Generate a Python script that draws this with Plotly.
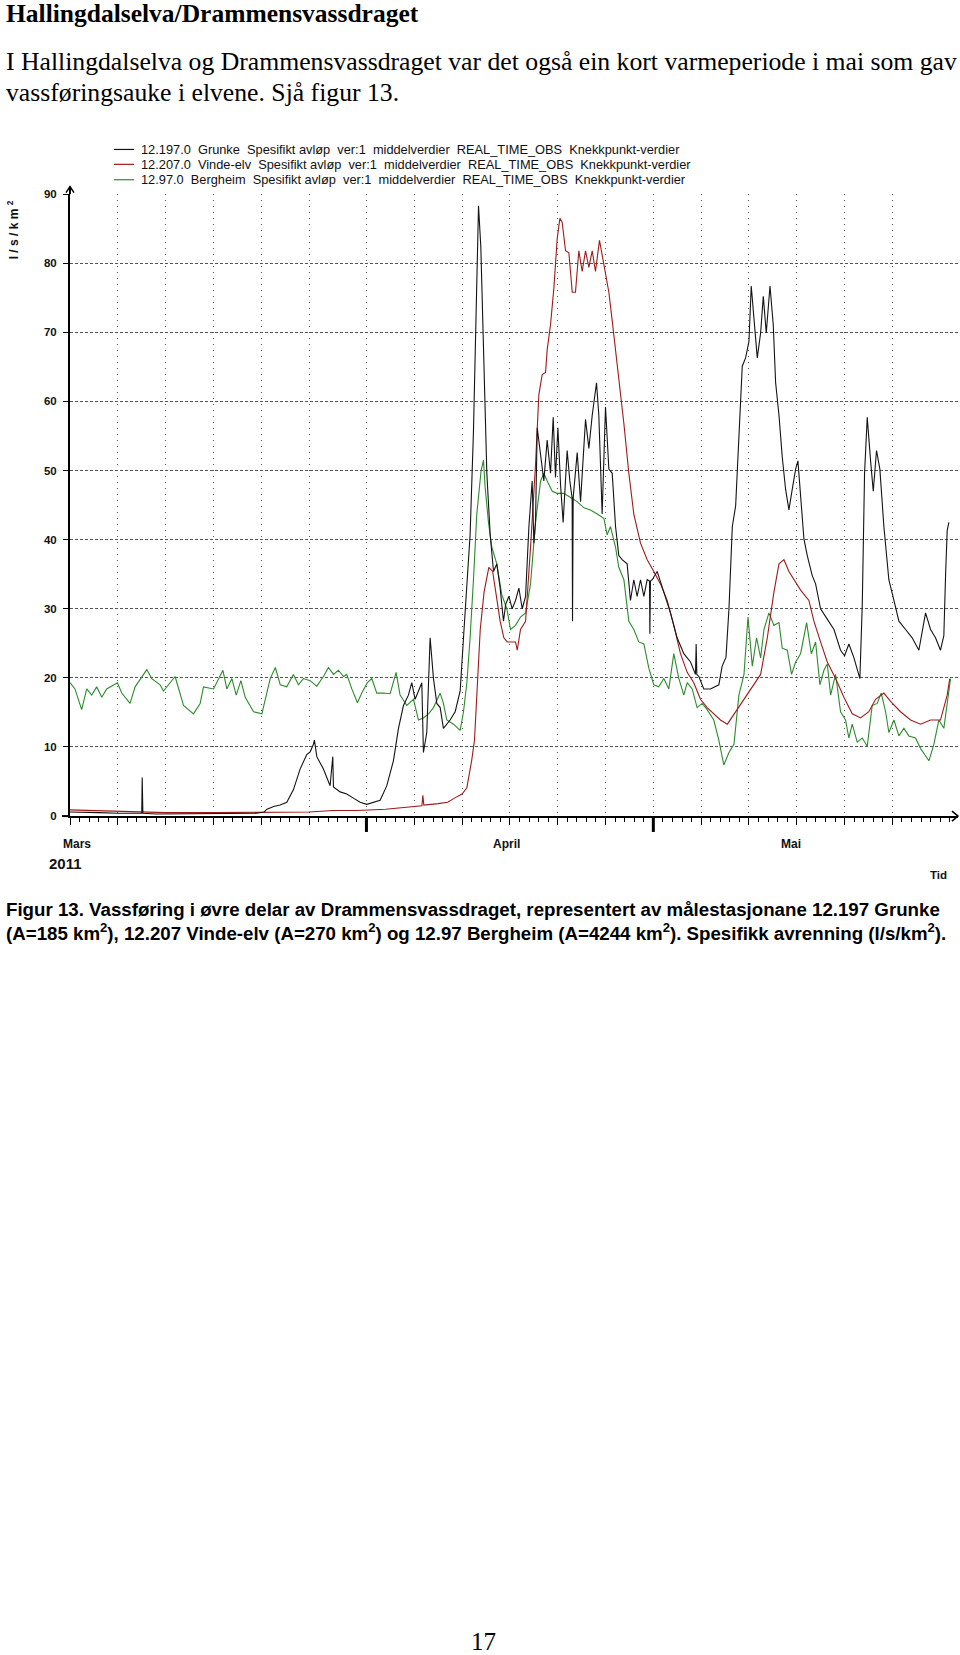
import pandas as pd
import plotly.graph_objects as go

W, H = 960, 1655
start = pd.Timestamp("2011-03-01")

# ---- data (days after 1 March 2011, l/s/km2) ----
grunke_day = [0.0, 1.5, 3.0, 5.0, 7.5, 7.55, 7.62, 9.0, 12.0, 15.0, 18.0, 19.5, 20.3, 20.6, 21.3, 21.97, 22.67,
              23.36, 24.06, 24.76, 25.11, 25.46, 25.56, 25.81, 26.5, 27.2, 27.48, 27.55, 28.25, 28.94, 29.64,
              30.34, 31.04, 31.73, 32.43, 33.13, 33.82, 34.35, 34.87, 35.39, 35.74, 36.09, 36.44, 36.79, 36.96,
              37.31, 37.66, 38.01, 38.36, 38.71, 39.05, 39.4, 39.75, 40.28, 40.8, 41.15, 41.5, 41.84, 42.19,
              42.44, 42.72, 42.96, 43.24, 43.59, 43.94, 44.29, 44.63, 44.98, 45.33, 45.55, 45.9, 46.24, 46.59,
              46.94, 47.29, 47.64, 47.99, 48.33, 48.51, 48.68, 48.86, 49.21, 49.55, 49.9, 50.25, 50.53, 50.77,
              51.02, 51.3, 51.57, 51.99, 52.27, 52.51, 52.55, 52.62, 53.04, 53.39, 53.91, 54.26, 54.61, 55.06,
              55.3, 55.65, 56.0, 56.35, 56.7, 57.05, 57.39, 57.74, 58.26, 58.61, 58.96, 59.31, 59.66, 60.01,
              60.36, 60.6, 60.64, 60.7, 60.88, 61.4, 62.1, 62.79, 63.49, 64.19, 64.89, 65.41, 65.48, 65.55,
              65.76, 66.28, 66.98, 67.85, 68.2, 68.6, 68.91, 69.26, 69.61, 69.95, 70.3, 70.65, 71.0, 71.24,
              71.52, 71.87, 72.22, 72.5, 72.81, 73.2, 73.54, 73.79, 74.14, 74.48, 74.83, 75.18, 75.53, 75.88,
              76.12, 76.4, 76.75, 77.1, 77.62, 77.97, 78.49, 79.19, 79.89, 80.58, 81.0, 81.45, 81.98, 82.6,
              82.85, 83.09, 83.37, 83.72, 84.0, 84.34, 84.69, 85.11, 85.63, 86.16, 86.68, 87.38, 88.07, 88.77,
              89.47, 89.99, 90.51, 91.03, 91.38, 91.56, 91.73, 91.91]
grunke_val = [0.6, 0.6, 0.5, 0.4, 0.4, 5.6, 0.4, 0.3, 0.3, 0.3, 0.3, 0.4, 0.6, 1.0, 1.4, 1.6, 2.0,
              3.8, 6.8, 8.9, 9.3, 10.4, 11.0, 8.6, 6.8, 4.4, 8.6, 4.2, 3.5, 3.2, 2.6,
              2.0, 1.7, 2.0, 2.3, 4.4, 8.0, 12.7, 16.0, 17.5, 19.3, 16.9, 18.1, 19.3, 9.2,
              12.1, 25.8, 19.9, 16.3, 15.7, 12.7, 13.3, 13.9, 15.1, 18.1, 25.8, 33.0, 40.7, 55.6,
              70.5, 88.3, 82.4, 67.5, 49.6, 40.7, 35.4, 36.5, 33.0, 28.2, 30.6, 31.8, 30.0, 31.2,
              33.0, 30.0, 31.8, 41.9, 48.5, 39.5, 42.5, 56.2, 52.6, 48.5, 54.4, 49.6, 57.7, 49.0,
              56.2, 47.9, 42.5, 52.9, 48.5, 46.0, 28.2, 46.1, 52.6, 45.5, 57.4, 53.2, 58.0, 62.7,
              58.0, 43.7, 59.2, 50.2, 49.6, 41.9, 37.7, 37.1, 36.5, 31.2, 34.2, 31.8, 34.2, 31.8,
              34.2, 34.0, 26.4, 34.0, 34.2, 35.4, 32.4, 29.4, 25.8, 23.5, 22.3, 20.5, 24.9, 20.5,
              20.2, 18.4, 18.4, 19.0, 21.7, 23.0, 30.0, 41.9, 44.9, 55.6, 65.1, 66.3, 68.7, 76.7,
              71.7, 66.3, 69.9, 75.2, 69.9, 76.7, 71.1, 62.7, 58.0, 52.0, 47.3, 44.3, 47.3, 50.2,
              51.4, 46.1, 40.1, 37.7, 34.8, 33.6, 30.0, 28.5, 27.0, 24.0, 23.2, 24.9, 22.9, 19.9,
              30.6, 49.6, 57.7, 51.4, 47.0, 52.9, 50.2, 41.9, 34.2, 31.2, 28.2, 27.0, 25.8, 24.0,
              29.4, 27.0, 25.8, 24.0, 26.1, 34.8, 41.3, 42.5]

vinde_day = [0.0, 3.0, 6.0, 10.0, 15.0, 20.0, 25.0, 27.5, 30.0, 33.0, 35.5, 36.8, 36.9, 37.0, 38.5, 39.5,
             40.2, 41.0, 41.5, 42.0, 42.3, 42.6, 42.9, 43.3, 43.8, 44.2, 44.6, 44.98, 45.37, 45.72, 46.59,
             46.77, 47.11, 47.64, 48.16, 48.68, 49.03, 49.38, 49.73, 49.9, 50.25, 50.6, 50.95, 51.23, 51.47,
             51.82, 52.17, 52.52, 52.86, 53.21, 53.56, 53.91, 54.26, 54.61, 54.95, 55.37, 55.65, 56.0, 56.35,
             56.7, 57.05, 57.39, 57.92, 58.44, 58.96, 59.66, 60.36, 61.05, 61.75, 62.45, 63.14, 63.84, 64.54,
             65.23, 65.93, 66.63, 67.32, 68.02, 68.74, 69.61, 70.48, 71.35, 72.22, 72.92, 73.61, 74.14, 74.66,
             75.18, 75.7, 76.4, 77.27, 77.79, 78.49, 79.19, 80.06, 80.93, 81.8, 82.67, 83.54, 84.24, 85.11,
             85.81, 86.85, 87.9, 88.94, 89.99, 91.03, 91.73, 92.0]
vinde_val = [0.9, 0.8, 0.7, 0.5, 0.5, 0.5, 0.6, 0.8, 0.8, 1.0, 1.3, 1.5, 3.0, 1.6, 1.8, 2.0,
             2.6, 3.2, 4.1, 8.0, 11.0, 18.7, 27.0, 32.4, 36.0, 35.4, 31.8, 28.2, 25.8, 25.2, 25.2,
             24.0, 27.0, 28.2, 38.9, 50.8, 61.0, 63.9, 64.2, 67.5, 71.1, 76.4, 83.6, 86.5, 85.9,
             81.8, 81.5, 75.8, 75.8, 81.8, 78.8, 81.8, 79.4, 81.8, 78.8, 83.3, 81.2, 78.5, 75.8,
             71.7, 67.5, 63.9, 56.8, 49.6, 43.7, 39.5, 37.1, 35.4, 33.6, 31.2, 27.6, 23.5, 20.8,
             19.3, 16.9, 15.7, 14.8, 13.9, 13.3, 15.1, 16.9, 18.7, 20.5, 25.8, 32.4, 36.5, 37.1,
             35.4, 34.2, 32.7, 31.2, 28.2, 25.2, 22.3, 19.9, 17.2, 14.8, 14.2, 15.1, 16.9, 17.8,
             16.6, 15.1, 13.9, 13.3, 13.9, 13.9, 17.5, 19.9]

bergheim_day = [0.0, 0.52, 1.22, 1.75, 2.27, 2.79, 3.32, 3.84, 4.96, 5.41, 6.28, 6.81, 8.03, 8.55, 9.42, 9.77,
                10.99, 11.87, 12.91, 13.61, 13.96, 15.01, 15.99, 16.4, 16.93, 17.38, 17.87, 18.32, 19.2, 20.07,
                20.42, 20.94, 21.47, 21.99, 22.67, 23.36, 23.89, 24.41, 25.11, 25.81, 26.5, 27.03, 27.55, 28.07,
                28.6, 28.94, 29.47, 30.06, 30.51, 31.1, 31.56, 32.08, 32.78, 33.48, 34.1, 34.52, 35.22, 35.92,
                36.44, 36.96, 37.49, 38.01, 38.71, 39.05, 39.4, 40.1, 40.8, 41.15, 41.5, 41.84, 42.19, 42.54,
                42.99, 43.24, 43.41, 43.76, 44.11, 44.63, 45.16, 45.68, 46.07, 46.59, 47.11, 47.64, 48.16, 48.68,
                49.21, 49.55, 49.9, 50.43, 50.95, 51.64, 52.34, 53.04, 53.74, 54.43, 55.13, 55.83, 56.17, 56.52,
                57.05, 57.39, 57.92, 58.44, 58.96, 59.48, 60.01, 60.53, 61.05, 61.57, 62.1, 62.62, 63.14, 63.67,
                64.19, 64.54, 65.06, 65.58, 66.1, 66.63, 67.32, 67.85, 68.37, 68.91, 69.43, 69.95, 70.48, 70.9,
                71.35, 71.8, 72.22, 72.57, 73.09, 73.61, 74.14, 74.48, 75.01, 75.46, 75.88, 76.4, 77.03, 77.52,
                77.97, 78.42, 78.84, 79.19, 79.54, 80.06, 80.58, 81.1, 81.45, 81.8, 82.32, 82.85, 83.37, 83.89,
                84.41, 84.83, 85.29, 85.63, 86.16, 86.68, 87.2, 87.72, 88.42, 88.94, 89.82, 90.34, 90.86, 91.38,
                91.91, 92.08]
bergheim_val = [19.3, 18.4, 15.4, 18.4, 17.5, 18.7, 17.2, 18.4, 19.3, 17.8, 16.3, 18.7, 21.2, 19.9, 19.0, 18.1,
                20.2, 16.0, 14.8, 16.3, 18.7, 18.4, 21.1, 18.4, 19.9, 17.5, 19.6, 17.2, 15.1, 14.8,
                16.9, 19.9, 21.5, 19.0, 18.7, 20.5, 19.0, 19.9, 19.6, 18.8, 20.2, 21.5, 20.5, 21.1,
                20.2, 20.5, 18.4, 16.4, 17.8, 19.3, 19.9, 17.8, 17.8, 17.7, 20.8, 17.5, 16.0, 16.9,
                13.9, 14.2, 14.8, 15.7, 17.8, 16.3, 13.9, 13.3, 12.4, 15.1, 19.3, 25.8, 34.2, 43.7,
                50.0, 51.5, 47.6, 42.5, 38.9, 36.5, 32.0, 30.0, 27.0, 27.6, 28.8, 29.4, 33.6, 42.5,
                48.5, 49.6, 48.5, 47.0, 46.7, 46.7, 46.1, 45.5, 44.6, 44.3, 43.7, 43.1, 40.7, 41.9,
                38.9, 36.0, 34.2, 28.2, 27.0, 25.2, 24.9, 21.4, 19.0, 18.7, 19.9, 18.4, 23.5, 19.9,
                17.5, 19.3, 18.4, 15.7, 16.3, 15.4, 13.9, 11.0, 7.4, 9.2, 10.4, 17.5, 20.5, 28.8,
                21.7, 25.8, 22.9, 27.0, 29.4, 27.6, 28.0, 24.3, 24.0, 20.5, 22.3, 23.5, 28.0, 23.5,
                25.2, 19.0, 21.1, 22.0, 17.5, 20.5, 15.1, 13.9, 11.3, 13.3, 10.7, 11.3, 10.1, 16.0,
                16.3, 17.8, 15.1, 12.1, 13.9, 11.6, 12.7, 11.6, 11.3, 9.8, 8.0, 10.4, 13.9, 12.7,
                18.1, 19.9]

series_names = [
    "12.197.0\u00a0 Grunke\u00a0 Spesifikt avløp\u00a0 ver:1\u00a0 middelverdier\u00a0 REAL_TIME_OBS\u00a0 Knekkpunkt-verdier",
    "12.207.0\u00a0 Vinde-elv\u00a0 Spesifikt avløp\u00a0 ver:1\u00a0 middelverdier\u00a0 REAL_TIME_OBS\u00a0 Knekkpunkt-verdier",
    "12.97.0\u00a0 Bergheim\u00a0 Spesifikt avløp\u00a0 ver:1\u00a0 middelverdier\u00a0 REAL_TIME_OBS\u00a0 Knekkpunkt-verdier",
]
series_colors = ["#141414", "#9e1b1b", "#2c8c2c"]

grid_dates = ["2011-03-06", "2011-03-11", "2011-03-16", "2011-03-21", "2011-03-26", "2011-04-01",
              "2011-04-06", "2011-04-11", "2011-04-16", "2011-04-21", "2011-04-26", "2011-05-01",
              "2011-05-06", "2011-05-11", "2011-05-16", "2011-05-21", "2011-05-26"]
major_dates = ["2011-04-01", "2011-05-01"]
y_ticks = [0, 10, 20, 30, 40, 50, 60, 70, 80, 90]


def to_dates(days):
    return [start + pd.Timedelta(days=d) for d in days]


def px(x):
    return x / W


def py(y):
    return 1 - y / H


fig = go.Figure()
# draw green first, then red, then black on top
order = [(bergheim_day, bergheim_val, 2), (vinde_day, vinde_val, 1), (grunke_day, grunke_val, 0)]
for days, vals, i in order:
    fig.add_trace(go.Scatter(x=to_dates(days), y=vals, mode="lines", name=series_names[i],
                             line=dict(color=series_colors[i], width=1.1), showlegend=False))

AX_L, AX_R = 70, 958
Y0, Y90 = 816, 189.5

fig.update_layout(
    width=W, height=H, margin=dict(l=0, r=0, t=0, b=0),
    paper_bgcolor="white", plot_bgcolor="white", showlegend=False,
    xaxis=dict(type="date", domain=[px(AX_L), px(AX_R)],
               range=["2011-03-01 00:00", "2011-06-01 20:40"],
               tickmode="array", tickvals=["2011-03-01"] + grid_dates, showticklabels=False,
               ticks="outside", ticklen=7, tickwidth=1, tickcolor="black",
               showgrid=True, gridcolor="#555", gridwidth=1, griddash="1px,5px",
               showline=True, linecolor="black", linewidth=2, zeroline=False,
               minor=dict(ticks="outside", ticklen=4, tickwidth=1, tickcolor="black",
                          dtick=86400000, tick0="2011-03-01", showgrid=False)),
    yaxis=dict(domain=[py(Y0), py(Y90)], range=[0, 90], tickmode="array", tickvals=y_ticks,
               ticks="outside", ticklen=5, tickwidth=1, tickcolor="black",
               tickfont=dict(family="Liberation Sans, Arial, sans-serif", size=11.5, color="#111", weight="bold"),
               ticklabelstandoff=4,
               showgrid=True, gridcolor="#555", gridwidth=1, griddash="3px,2px",
               showline=True, linecolor="black", linewidth=2, zeroline=False),
)

shapes = []
black = dict(color="black", width=2)
# axis extensions and arrowheads
shapes.append(dict(type="line", xref="paper", yref="paper", x0=px(62), x1=px(AX_L), y0=py(Y0), y1=py(Y0), line=black))
shapes.append(dict(type="line", xref="paper", yref="paper", x0=px(AX_L), x1=px(AX_L), y0=py(Y90), y1=py(182), line=black))
shapes.append(dict(type="path", xref="paper", yref="paper",
                   path=f"M {px(66)} {py(188)} L {px(AX_L)} {py(182)} L {px(74)} {py(188)}",
                   line=dict(color="black", width=1.5)))
shapes.append(dict(type="path", xref="paper", yref="paper",
                   path=f"M {px(952)} {py(811)} L {px(958)} {py(Y0)} L {px(952)} {py(821)}",
                   line=dict(color="black", width=1.5)))
for d in major_dates:
    shapes.append(dict(type="line", xref="x", yref="paper", x0=d, x1=d, y0=py(Y0), y1=py(832),
                       line=dict(color="black", width=3)))
# legend sample lines
legend_y = [144.5, 159.5, 175]
for i, yy in enumerate(legend_y):
    shapes.append(dict(type="line", xref="paper", yref="paper", x0=px(114), x1=px(134), y0=py(yy), y1=py(yy),
                       line=dict(color=series_colors[i], width=1.2)))
fig.update_layout(shapes=shapes)

serif = "Liberation Serif, Times New Roman, serif"
sans = "Liberation Sans, Arial, sans-serif"
ann = []


def text(x, y, s, size, family, bold=False, xanchor="left", color="black", angle=0):
    ann.append(dict(xref="paper", yref="paper", x=px(x), y=py(y), text=s, showarrow=False,
                    xanchor=xanchor, yanchor="middle", textangle=angle,
                    font=dict(family=family, size=size, color=color, weight="bold" if bold else "normal")))


text(4, 7.5, "Hallingdalselva/Drammensvassdraget", 25.5, serif, bold=True)
text(4, 56, "I Hallingdalselva og Drammensvassdraget var det også ein kort varmeperiode i mai som gav", 25.7, serif)
text(4, 87, "vassføringsauke i elvene. Sjå figur 13.", 25.7, serif)

for i, yy in enumerate(legend_y):
    text(139, yy, series_names[i], 12.8, sans, color="#111")

text(13, 226, "l / s / k m <sup>2</sup>", 12, sans, bold=True, xanchor="center", angle=-90, color="#111")
text(61, 844, "Mars", 12, sans, bold=True, color="#111")
text(506, 844, "April", 12, sans, bold=True, xanchor="center", color="#111")
text(791, 844, "Mai", 12, sans, bold=True, xanchor="center", color="#111")
text(47, 864, "2011", 15, sans, bold=True, color="#111")
text(938, 875, "Tid", 11.5, sans, bold=True, xanchor="center", color="#111")

text(4, 910, "Figur 13. Vassføring i øvre delar av Drammensvassdraget, representert av målestasjonane 12.197 Grunke",
     18.7, sans, bold=True)
text(4, 933, "(A=185 km<sup>2</sup>), 12.207 Vinde-elv (A=270 km<sup>2</sup>) og 12.97 Bergheim (A=4244 km<sup>2</sup>). "
     "Spesifikk avrenning (l/s/km<sup>2</sup>).", 18.7, sans, bold=True)

text(483, 1647, "17", 25, serif, xanchor="center")

fig.update_layout(annotations=ann)
fig.write_html("out.html")
